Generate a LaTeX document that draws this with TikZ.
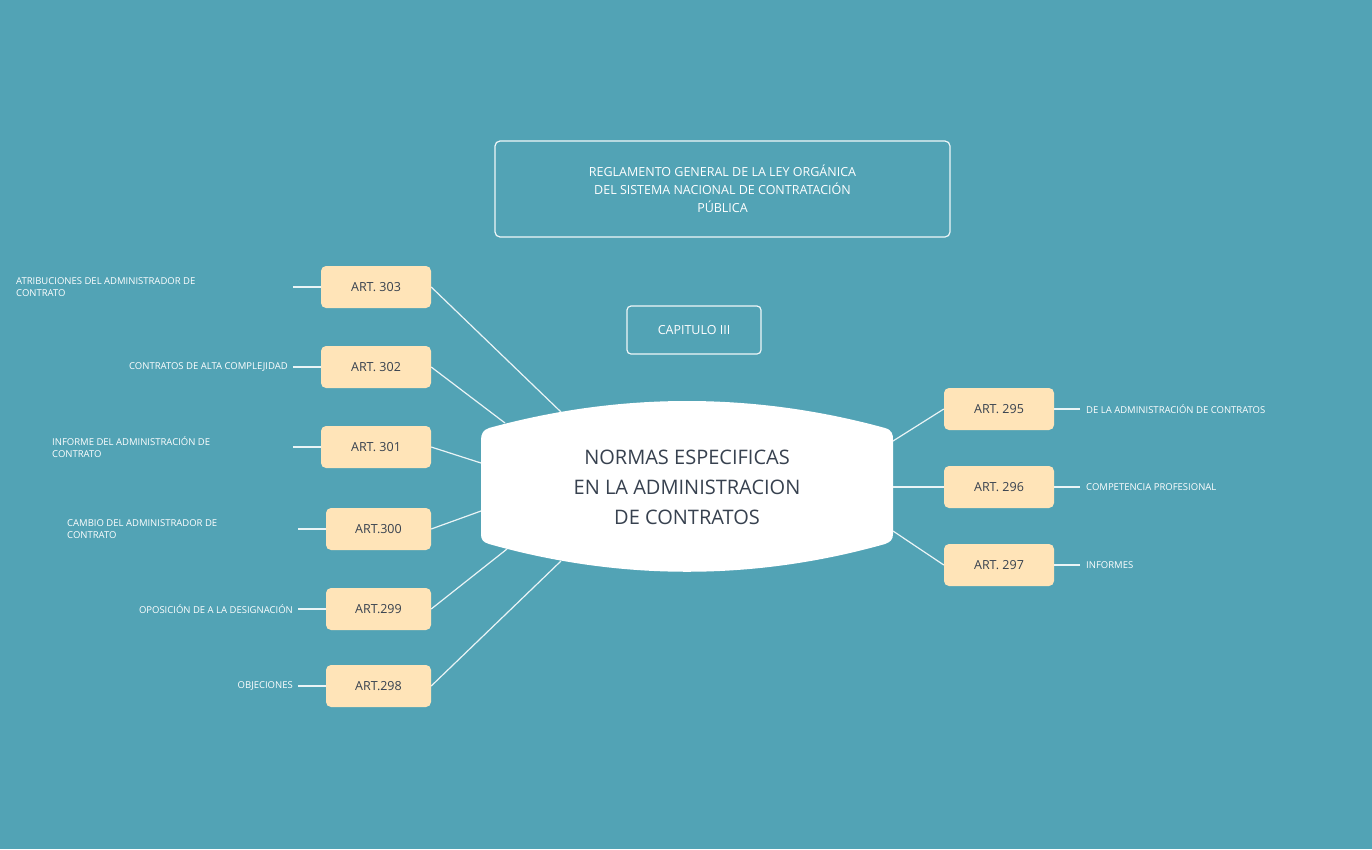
\documentclass[tikz,border=0pt]{standalone}
\usepackage{fontspec}
\setmainfont{Open Sans}
\definecolor{bg}{HTML}{52A3B5}
\definecolor{art}{HTML}{FFE4B8}
\definecolor{ink}{HTML}{37414F}
\begin{document}
\begin{tikzpicture}[x=1pt,y=-1pt,
 artbox/.style={fill=art,rounded corners=5pt,text=ink,font=\fontsize{12.5}{14}\selectfont,inner sep=0pt},
 lbl/.style={text=white,font=\fontsize{9.5}{12}\selectfont,align=left,inner sep=0pt},
 wline/.style={draw=white!88!bg,line width=1.2pt}]
\fill[bg] (0,0) rectangle (1372,849);
\useasboundingbox (0,0) rectangle (1372,849);
% title
\node[draw=white!90!bg,line width=1.2pt,rounded corners=5pt,minimum width=455pt,minimum height=96pt,text=white,align=center,font=\fontsize{12.5}{18}\selectfont] (title) at (722.5,189) {REGLAMENTO GENERAL DE LA LEY ORGÁNICA\\DEL SISTEMA NACIONAL DE CONTRATACIÓN\\PÚBLICA};
\node[draw=white!90!bg,line width=1.2pt,rounded corners=4pt,minimum width=134pt,minimum height=48pt,text=white,font=\fontsize{12.5}{14}\selectfont] (cap) at (694,330) {CAPITULO III};
% central
\fill[white] (489,428) .. controls (620,392) and (754,392) .. (885,428) .. controls (892,430) and (893,434) .. (893,440)
 -- (893,534) .. controls (893,540) and (890,542) .. (885,544) .. controls (754,581) and (620,581) .. (489,544)
 .. controls (483,542) and (481,540) .. (481,534) -- (481,440) .. controls (481,434) and (483,430) .. (489,428) -- cycle;
\node[text=ink,align=center,font=\fontsize{20}{30}\selectfont] (center) at (687,487) {NORMAS ESPECIFICAS\\EN LA ADMINISTRACION\\DE CONTRATOS};
\coordinate (c303) at (561,412); \coordinate (c302) at (505,423); \coordinate (c301) at (481,463);
\coordinate (c300) at (481,511); \coordinate (c299) at (507,549); \coordinate (c298) at (561,561);
\coordinate (c295) at (893,441); \coordinate (c296) at (893,487); \coordinate (c297) at (893,531);
% left boxes
\node[artbox,minimum width=110pt,minimum height=42pt] (a303) at (376,287) {ART. 303};
\node[artbox,minimum width=110pt,minimum height=42pt] (a302) at (376,367) {ART. 302};
\node[artbox,minimum width=110pt,minimum height=42pt] (a301) at (376,447) {ART. 301};
\node[artbox,minimum width=105pt,minimum height=42pt] (a300) at (378.5,529) {ART.300};
\node[artbox,minimum width=105pt,minimum height=42pt] (a299) at (378.5,609) {ART.299};
\node[artbox,minimum width=105pt,minimum height=42pt] (a298) at (378.5,686) {ART.298};
\node[artbox,minimum width=110pt,minimum height=42pt] (a295) at (999,409) {ART. 295};
\node[artbox,minimum width=110pt,minimum height=42pt] (a296) at (999,487) {ART. 296};
\node[artbox,minimum width=110pt,minimum height=42pt] (a297) at (999,565) {ART. 297};
\foreach \n in {303,302,301,300,299,298}{\draw[wline] (a\n.east) -- (c\n);}
\foreach \n in {295,296,297}{\draw[wline] (a\n.west) -- (c\n);}
% labels
\node[lbl,anchor=west] (l303) at (16,287) {ATRIBUCIONES DEL ADMINISTRADOR DE\\CONTRATO};
\node[lbl,anchor=east] (l302) at (288,367) {CONTRATOS DE ALTA COMPLEJIDAD};
\node[lbl,anchor=west] (l301) at (52,447) {INFORME DEL ADMINISTRACIÓN DE\\CONTRATO};
\node[lbl,anchor=west] (l300) at (67,529) {CAMBIO DEL ADMINISTRADOR DE\\CONTRATO};
\node[lbl,anchor=east] (l299) at (293,609) {OPOSICIÓN DE A LA DESIGNACIÓN};
\node[lbl,anchor=east] (l298) at (293,686) {OBJECIONES};
\node[lbl,anchor=west] (l295) at (1086,409) {DE LA ADMINISTRACIÓN DE CONTRATOS};
\node[lbl,anchor=west] (l296) at (1086,487) {COMPETENCIA PROFESIONAL};
\node[lbl,anchor=west] (l297) at (1086,565) {INFORMES};
\coordinate (e303) at (293,287); \coordinate (e302) at (293,367); \coordinate (e301) at (293,447);
\coordinate (e300) at (298,529); \coordinate (e299) at (298,609); \coordinate (e298) at (298,686);
\foreach \n in {303,302,301,300,299,298}{\draw[wline] (e\n) -- (a\n.west);}
\coordinate (e295) at (1080,409); \coordinate (e296) at (1080,487); \coordinate (e297) at (1080,565);
\foreach \n in {295,296,297}{\draw[wline] (a\n.east) -- (e\n);}
\end{tikzpicture}
\end{document}
